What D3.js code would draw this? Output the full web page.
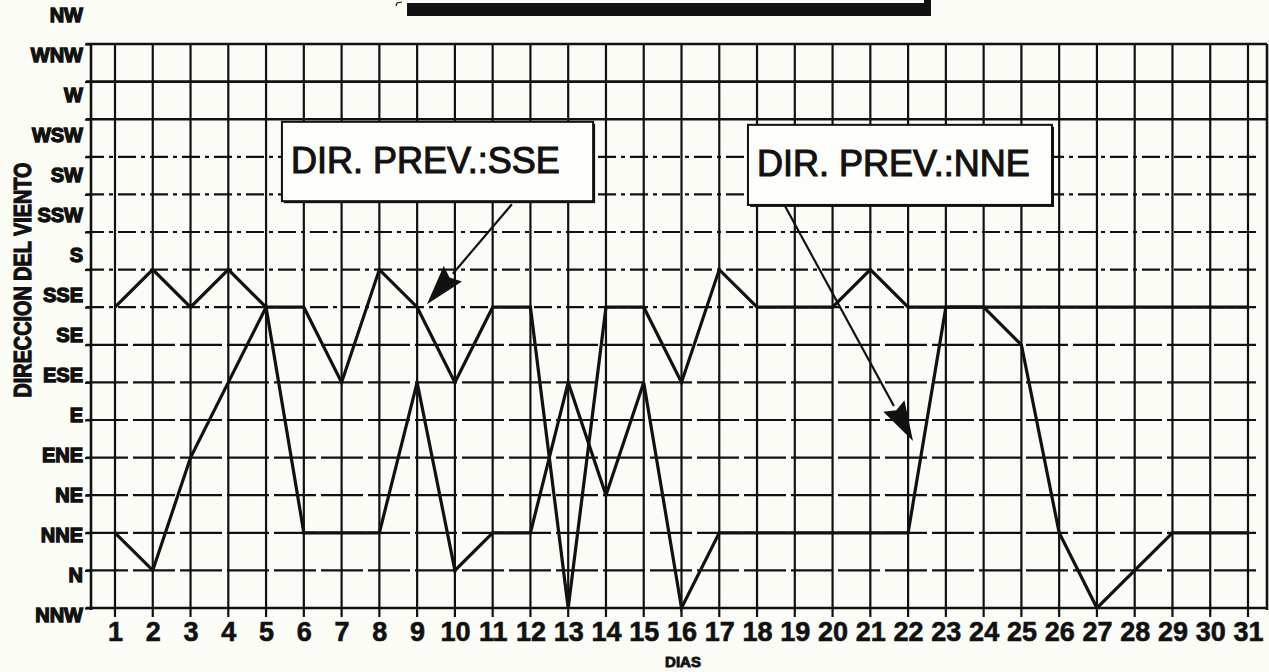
<!DOCTYPE html>
<html>
<head>
<meta charset="utf-8">
<script src="https://cdn.jsdelivr.net/npm/d3@7"></script>
<style>
  html, body { margin: 0; padding: 0; background: #fcfcf7; }
  svg { display: block; }
</style>
</head>
<body>
<svg id="chart" width="1269" height="672"></svg>
<script>
// ---- data ----
const directions = ["NW","WNW","W","WSW","SW","SSW","S","SSE","SE","ESE","E","ENE","NE","NNE","N","NNW"];
const days = [1,2,3,4,5,6,7,8,9,10,11,12,13,14,15,16,17,18,19,20,21,22,23,24,25,26,27,28,29,30,31];
const seriesUpper = ["SSE","S","SSE","S","SSE","SSE","ESE","S","SSE","ESE","SSE","SSE","NNW","SSE","SSE","ESE","S","SSE","SSE","SSE","S","SSE","SSE","SSE","SSE","SSE","SSE","SSE","SSE","SSE","SSE"];
const seriesLower = ["NNE","N","ENE","ESE","SSE","NNE","NNE","NNE","ESE","N","NNE","NNE","ESE","NE","ESE","NNW","NNE","NNE","NNE","NNE","NNE","NNE","SSE","SSE","SE","NNE","NNW","N","NNE","NNE","NNE"];
const annotationTexts = ["DIR. PREV.:SSE", "DIR. PREV.:NNE"];
const yTitle = "DIRECCION DEL VIENTO";
const xTitle = "DIAS";

// ---- drawing ----
const svg = d3.select("#chart");
const ink = "#111";

const x = d3.scaleLinear().domain([1, 31]).range([115, 1248]);
const y = d3.scalePoint().domain(directions).range([44, 608]);
const yIdx = d3.scaleLinear().domain([0, directions.length - 1]).range([44, 608]);
const yLabel = d3.scalePoint().domain(directions).range([15, 615]);

const plotLeft = 91, plotRight = 1267;
const plotTop = y(directions[0]), plotBottom = y(directions[directions.length - 1]);

svg.append("rect").attr("width", 1269).attr("height", 672).attr("fill", "#fcfcf7");

// cropped title box fragment at the top
svg.append("rect").attr("x", 407).attr("y", 3).attr("width", 524).attr("height", 13).attr("fill", ink);
svg.append("rect").attr("x", 924).attr("y", 0).attr("width", 7).attr("height", 16).attr("fill", ink);
svg.append("path").attr("d", "M402,2 L397,3 L396,6").attr("fill", "none").attr("stroke", ink).attr("stroke-width", 1.2);

// horizontal grid lines
const grid = svg.append("g");
directions.forEach((d, i) => {
  const last = directions.length - 1;
  const solid = i <= 2 || i === last;
  grid.append("line")
    .attr("x1", 86).attr("x2", solid ? plotRight : 1258)
    .attr("y1", y(d)).attr("y2", y(d))
    .attr("stroke", ink)
    .attr("stroke-width", solid ? 2.6 : 2.2)
    .attr("stroke-dasharray", solid ? null : (i <= 7 ? "18,5,4,5" : "42,5"));
});

// vertical grid lines (with ticks below)
days.forEach(d => {
  grid.append("line")
    .attr("x1", x(d)).attr("x2", x(d))
    .attr("y1", plotTop).attr("y2", plotBottom + 9)
    .attr("stroke", ink).attr("stroke-width", 2.2);
});

// frame
svg.append("line").attr("x1", plotLeft).attr("x2", plotLeft).attr("y1", plotTop).attr("y2", plotBottom + 2)
  .attr("stroke", ink).attr("stroke-width", 2.6);
svg.append("line").attr("x1", plotRight).attr("x2", plotRight).attr("y1", plotTop).attr("y2", plotBottom + 2)
  .attr("stroke", ink).attr("stroke-width", 2.6);

// left ticks
const yTicks = svg.append("g").attr("transform", `translate(${plotLeft},0)`)
  .call(d3.axisLeft(y).tickSize(6).tickFormat(""));
yTicks.select(".domain").remove();
yTicks.selectAll("line").attr("stroke", ink).attr("stroke-width", 2);

// y labels
const yAx = svg.append("g").attr("transform", `translate(${plotLeft},0)`)
  .call(d3.axisLeft(yLabel).tickSize(0).tickPadding(8));
yAx.select(".domain").remove();
yAx.selectAll("text")
  .attr("font-family", "'Liberation Sans', Arial, sans-serif")
  .attr("font-weight", "bold").attr("font-size", 20)
  .attr("fill", ink).attr("stroke", ink).attr("stroke-width", 1.3);

// x labels
const xAx = svg.append("g").attr("transform", `translate(0,${plotBottom})`)
  .call(d3.axisBottom(x).tickValues(days).tickSize(0).tickPadding(14).tickFormat(d3.format("d")));
xAx.select(".domain").remove();
xAx.selectAll("text")
  .attr("font-family", "'Liberation Sans', Arial, sans-serif")
  .attr("font-weight", "bold").attr("font-size", 27)
  .attr("fill", ink).attr("stroke", ink).attr("stroke-width", 0.6);

// axis titles
svg.append("text")
  .attr("transform", "translate(31,280) rotate(-90)")
  .attr("text-anchor", "middle")
  .attr("font-family", "'Liberation Sans', Arial, sans-serif")
  .attr("font-weight", "bold").attr("font-size", 23)
  .attr("textLength", 235).attr("lengthAdjust", "spacingAndGlyphs")
  .attr("fill", ink).attr("stroke", ink).attr("stroke-width", 1.2)
  .text(yTitle);
svg.append("text")
  .attr("x", 683).attr("y", 667)
  .attr("text-anchor", "middle")
  .attr("font-family", "'Liberation Sans', Arial, sans-serif")
  .attr("font-weight", "bold").attr("font-size", 15)
  .attr("fill", ink).attr("stroke", ink).attr("stroke-width", 0.9)
  .text(xTitle);

// data lines
const line = d3.line().x((d, i) => x(days[i])).y(d => y(d)).curve(d3.curveLinear);
[seriesUpper, seriesLower].forEach(s => {
  svg.append("path").attr("d", line(s))
    .attr("fill", "none").attr("stroke", ink)
    .attr("stroke-width", 3.2).attr("stroke-linejoin", "miter");
});

// annotation boxes and arrows (positions in data units)
const notes = [
  { text: annotationTexts[0], x0: 5.42, x1: 13.66, i0: 2.07, i1: 4.18, tail: [11.51, 4.26], tip: [9.26, 6.92] },
  { text: annotationTexts[1], x0: 17.76, x1: 25.81, i0: 2.15, i1: 4.28, tail: [18.74, 4.31], tip: [22.13, 10.56] }
];
notes.forEach(n => {
  const bx = x(n.x0), by = yIdx(n.i0), bw = x(n.x1) - x(n.x0), bh = yIdx(n.i1) - yIdx(n.i0);
  svg.append("rect").attr("x", bx + 2).attr("y", by + 2).attr("width", bw).attr("height", bh).attr("fill", ink);
  svg.append("rect").attr("x", bx).attr("y", by).attr("width", bw).attr("height", bh)
    .attr("fill", "#fdfdf9").attr("stroke", ink).attr("stroke-width", 2);
  svg.append("text").attr("x", bx + 9).attr("y", by + 51)
    .attr("font-family", "'Liberation Sans', Arial, sans-serif")
    .attr("font-size", 36).attr("fill", ink).attr("stroke", ink).attr("stroke-width", 1.1)
    .text(n.text);
  const tx = x(n.tail[0]), ty = yIdx(n.tail[1]), px = x(n.tip[0]), py = yIdx(n.tip[1]);
  const dx = px - tx, dy = py - ty, len = Math.hypot(dx, dy), ux = dx / len, uy = dy / len;
  const headL = 40, headW = 12;
  const bxh = px - ux * headL, byh = py - uy * headL;
  svg.append("line").attr("x1", tx).attr("y1", ty).attr("x2", bxh).attr("y2", byh)
    .attr("stroke", ink).attr("stroke-width", 2.2);
  svg.append("path")
    .attr("d", `M${px},${py} L${bxh - uy * headW},${byh + ux * headW} L${bxh + ux * 5},${byh + uy * 5} L${bxh + uy * headW},${byh - ux * headW} Z`)
    .attr("fill", ink);
});
</script>
</body>
</html>
